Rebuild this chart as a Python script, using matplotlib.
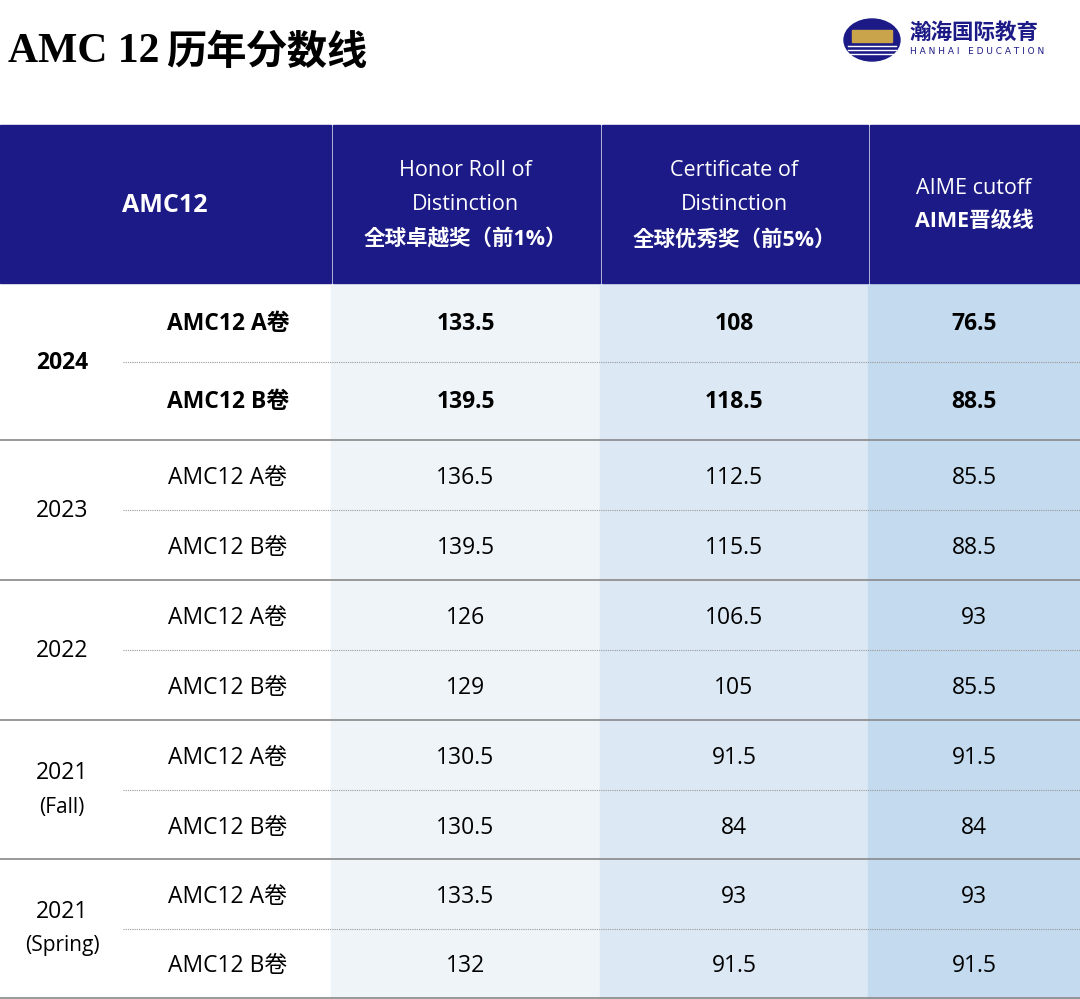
import matplotlib
matplotlib.use("Agg")
import matplotlib.pyplot as plt
from matplotlib.patches import Rectangle, Ellipse
from matplotlib import font_manager

years = ["2024", "2023", "2022", "2021\n(Fall)", "2021\n(Spring)"]
papers = ["AMC12 A卷", "AMC12 B卷"]
honor = [133.5, 139.5, 136.5, 139.5, 126, 129, 130.5, 130.5, 133.5, 132]
cert = [108, 118.5, 112.5, 115.5, 106.5, 105, 91.5, 84, 93, 91.5]
aime = [76.5, 88.5, 85.5, 88.5, 93, 85.5, 91.5, 84, 93, 91.5]
headers = ["AMC12", "Honor Roll of\nDistinction", "Certificate of\nDistinction", "AIME cutoff"]
headers_cn = ["", "全球卓越奖（前1%）", "全球优秀奖（前5%）", "AIME晋级线"]

names = {f.name for f in font_manager.fontManager.ttflist}
cjk = [n for n in ["Noto Sans CJK SC", "Noto Sans CJK JP", "Noto Sans CJK TC", "Noto Sans CJK KR"] if n in names]
F = ["Open Sans"] + cjk + ["DejaVu Sans"]
plt.rcParams["font.family"] = F

W, H = 1080, 999
fig = plt.figure(figsize=(W/100, H/100), dpi=100)
ax = fig.add_axes([0, 0, 1, 1])
ax.set_xlim(0, W); ax.set_ylim(H, 0); ax.axis("off")

navy = "#1c1a86"
cols = [0, 331, 600, 868, 1080]
bgs = ["white", "#eff4f9", "#dce8f4", "#c4daee"]
hy0, hy1 = 125, 283
row_edges = [283, 362, 440, 510, 580, 650, 720, 790, 859, 929, 998]

# title
ax.text(8, 52, "AMC 12", fontsize=30, fontweight="bold", family="Liberation Serif", va="center", ha="left", color="black")
ax.text(166, 52, "历年分数线", fontsize=29, fontweight="bold", family=cjk + ["DejaVu Sans"], va="center", ha="left")

# logo
ax.add_patch(Ellipse((872, 40), 56, 42, color=navy))
ax.add_patch(Rectangle((852, 30), 40, 12, color="#c9a44a"))
for yy in (46, 50, 54):
    ax.plot([848, 896], [yy, yy], color="white", lw=1)
ax.text(909, 32, "瀚海国际教育", fontsize=15.5, fontweight="bold", family=cjk + ["DejaVu Sans"], color=navy, va="center", ha="left")
ax.text(910, 52, "H A N H A I   E D U C A T I O N", fontsize=6.5, family="DejaVu Sans", color=navy, va="center", ha="left")

# header
for i in range(4):
    ax.add_patch(Rectangle((cols[i] + (2 if i else 0), hy0), cols[i+1]-cols[i]-(2 if i else 0), hy1-hy0, color=navy))
ax.text(165, 205, headers[0], fontsize=18, fontweight="bold", color="white", ha="center", va="center")
for i in (1, 2):
    cx = (cols[i]+cols[i+1])/2
    l1, l2 = headers[i].split("\n")
    ax.text(cx, 170, l1, fontsize=15.5, color="white", ha="center", va="center")
    ax.text(cx, 205, l2, fontsize=15.5, color="white", ha="center", va="center")
    ax.text(cx, 240, headers_cn[i], fontsize=15.5, fontweight="bold", color="white", ha="center", va="center")
cx = (cols[3]+cols[4])/2
ax.text(cx, 188, headers[3], fontsize=15.5, color="white", ha="center", va="center")
ax.text(cx, 221, headers_cn[3], fontsize=15.5, fontweight="bold", color="white", ha="center", va="center")

# column backgrounds
for i in range(1, 4):
    ax.add_patch(Rectangle((cols[i], hy1), cols[i+1]-cols[i], H-hy1, color=bgs[i], zorder=0))

for r in range(10):
    y0, y1 = row_edges[r], row_edges[r+1]
    cy = (y0+y1)/2 + (1 if r < 2 else 3)
    bold = "bold" if r < 2 else "normal"
    ax.text(228, cy, papers[r % 2], fontsize=16.5, fontweight=bold, ha="center", va="center")
    for j, v in enumerate((honor[r], cert[r], aime[r])):
        cxx = (cols[j+1]+cols[j+2])/2
        ax.text(cxx, cy, f"{v:g}", fontsize=16.5, fontweight=bold, ha="center", va="center")
    if r % 2 == 0:
        ax.plot([123, W], [y1, y1], color="#999999", lw=0.8, ls=(0, (1, 1)))
        parts = years[r//2].split("\n")
        if len(parts) == 1:
            ax.text(62, y1 + 1, parts[0], fontsize=16.5, fontweight=bold, ha="center", va="center")
        else:
            ax.text(62, y1 - 17, parts[0], fontsize=16.5, ha="center", va="center")
            ax.text(62, y1 + 17, parts[1], fontsize=15, ha="center", va="center")
    else:
        ax.plot([0, W], [y1, y1], color="#888888", lw=1.2)

fig.savefig("out.png", dpi=100)
